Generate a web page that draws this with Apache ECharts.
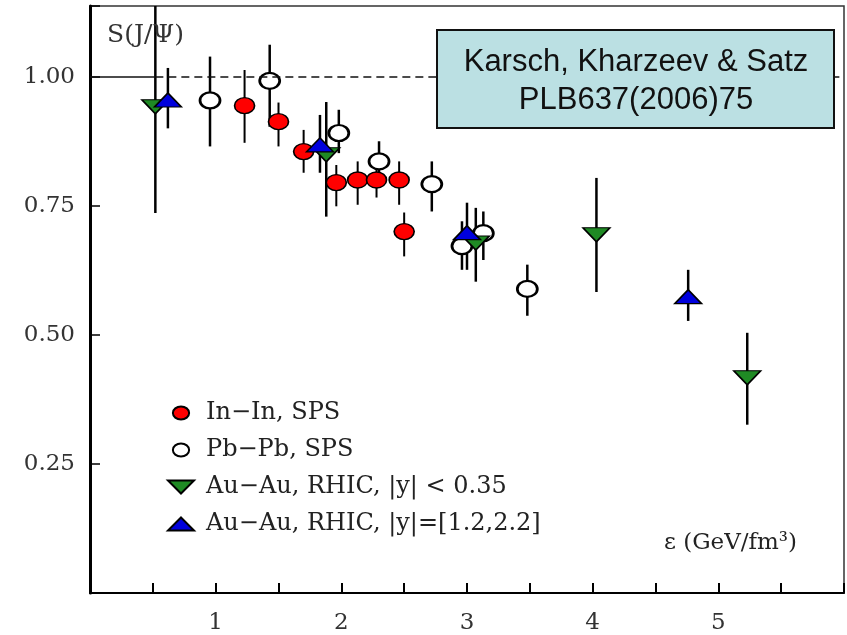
<!DOCTYPE html>
<html><head><meta charset="utf-8">
<script src="https://cdn.jsdelivr.net/npm/echarts@6/dist/echarts.min.js"></script>
<style>html,body{margin:0;padding:0;background:#fff}#c{width:847px;height:635px}</style>
</head><body><div id="c"></div>
<script>
// ---- data ----
const xTickLabels = ['1', '2', '3', '4', '5'];
const yTickLabels = ['0.25', '0.50', '0.75', '1.00'];
const seriesNames = ['In\u2212In, SPS', 'Pb\u2212Pb, SPS', 'Au\u2212Au, RHIC, |y| < 0.35', 'Au\u2212Au, RHIC, |y|=[1.2,2.2]'];

const inInX  = [1.23, 1.50, 1.70, 1.96, 2.13, 2.28, 2.46, 2.50];
const inInY  = [0.944, 0.913, 0.855, 0.795, 0.800, 0.800, 0.800, 0.700];
const inInLo = [0.872, 0.865, 0.814, 0.749, 0.752, 0.766, 0.752, 0.652];
const inInHi = [1.013, 0.950, 0.897, 0.829, 0.836, 0.829, 0.836, 0.737];

const pbPbX  = [0.955, 1.43, 1.98, 2.30, 2.72, 2.96, 3.13, 3.48];
const pbPbY  = [0.954, 0.992, 0.891, 0.836, 0.792, 0.672, 0.697, 0.589];
const pbPbLo = [0.865, 0.903, 0.852, 0.797, 0.739, 0.626, 0.645, 0.537];
const pbPbHi = [1.039, 1.062, 0.936, 0.875, 0.836, 0.720, 0.739, 0.636];

const auMidX  = [0.52, 1.88, 3.07, 4.03, 5.23];
const auMidY  = [0.942, 0.849, 0.678, 0.694, 0.417];
const auMidLo = [0.736, 0.729, 0.603, 0.583, 0.326];
const auMidHi = [1.150, 0.951, 0.746, 0.804, 0.504];

const auFwdX  = [0.62, 1.83, 3.00, 4.76];
const auFwdY  = [0.955, 0.868, 0.698, 0.574];
const auFwdLo = [0.900, 0.814, 0.626, 0.527];
const auFwdHi = [1.017, 0.926, 0.756, 0.626];

const refLevel = 1.0;
// ---- end data ----

const ellipse = 'path://M0,4 A5,4 0 1,1 10,4 A5,4 0 1,1 0,4 Z';
const triUp = 'path://M1,0 L2,1 L0,1 Z';
const triDown = 'path://M0,0 L2,0 L1,1 Z';
const serif = 'DejaVu Serif';

function zip(a, b) { return a.map((v, i) => [v, b[i]]); }
function errSeries(xs, lo, hi, w) {
  return {
    type: 'custom', clip: true, silent: true, z: 1,
    data: xs.map((x, i) => [x, lo[i], hi[i]]),
    renderItem(params, api) {
      const a = api.coord([api.value(0), api.value(1)]);
      const b = api.coord([api.value(0), api.value(2)]);
      return { type: 'line', shape: { x1: a[0], y1: a[1], x2: b[0], y2: b[1] },
               style: { stroke: '#000', lineWidth: w } };
    }
  };
}

const chart = echarts.init(document.getElementById('c'));
chart.setOption({
  animation: false,
  backgroundColor: '#fff',
  grid: { left: 90, top: 6, width: 760, height: 587, show: true, borderColor: '#333', borderWidth: 1.5 },
  xAxis: {
    type: 'value', min: 0, max: 6, interval: 0.5,
    axisLine: { lineStyle: { color: '#000', width: 2 } },
    axisTick: { inside: true, length: 10, lineStyle: { color: '#000', width: 2 } },
    splitLine: { show: false },
    axisLabel: {
      margin: 19, color: '#333', fontFamily: serif, fontSize: 23,
      formatter: v => { const s = String(Math.round(v * 100) / 100); return xTickLabels.includes(s) ? s : ''; }
    }
  },
  yAxis: {
    type: 'value', min: 0, max: 1.137, interval: 0.25,
    axisLine: { lineStyle: { color: '#000', width: 3 } },
    axisTick: { inside: true, length: 10, lineStyle: { color: '#000', width: 1.5 } },
    splitLine: { show: false },
    axisLabel: {
      margin: 15, color: '#333', fontFamily: serif, fontSize: 23,
      formatter: v => { const s = v.toFixed(2); return yTickLabels.includes(s) ? s : ''; }
    }
  },
  legend: {
    orient: 'vertical', left: 167, top: 401, padding: 0,
    itemWidth: 40, itemHeight: 13, itemGap: 13, selectedMode: false,
    textStyle: { fontFamily: serif, fontSize: 24, color: '#222' },
    data: [
      { name: seriesNames[0], icon: ellipse },
      { name: seriesNames[1], icon: ellipse },
      { name: seriesNames[2], icon: triDown },
      { name: seriesNames[3], icon: triUp }
    ]
  },
  graphic: [
    { type: 'rect', shape: { x: 437, y: 30, width: 397, height: 98 },
      style: { fill: '#bbe0e3', stroke: '#111', lineWidth: 2 }, z: 10 },
    { type: 'text', x: 636, y: 62, z: 11,
      style: { text: 'Karsch, Kharzeev & Satz', fontFamily: 'Liberation Sans', fontSize: 31, fill: '#111', align: 'center', verticalAlign: 'middle' } },
    { type: 'text', x: 636, y: 100, z: 11,
      style: { text: 'PLB637(2006)75', fontFamily: 'Liberation Sans', fontSize: 31, fill: '#111', align: 'center', verticalAlign: 'middle' } },
    { type: 'text', x: 107, y: 35, z: 11,
      style: { text: 'S(J/\u03A8)', fontFamily: serif, fontSize: 25, fill: '#333', align: 'left', verticalAlign: 'middle' } },
    { type: 'text', x: 797, y: 543, z: 11,
      style: { text: '\u03B5 (GeV/fm\u00B3)', fontFamily: serif, fontSize: 23, fill: '#222', align: 'right', verticalAlign: 'middle' } }
  ],
  series: [
    errSeries(pbPbX, pbPbLo, pbPbHi, 2.5),
    errSeries(inInX, inInLo, inInHi, 2),
    errSeries(auMidX, auMidLo, auMidHi, 2.5),
    errSeries(auFwdX, auFwdLo, auFwdHi, 2.5),
    { type: 'scatter', name: seriesNames[1], data: zip(pbPbX, pbPbY), symbol: ellipse, symbolSize: [20, 16], z: 3, silent: true,
      itemStyle: { color: '#fff', borderColor: '#000', borderWidth: 2.5, opacity: 1 },
      markLine: { silent: true, symbol: 'none', label: { show: false },
        lineStyle: { color: '#111', width: 1.5 },
        data: [
          [{ coord: [0, refLevel], lineStyle: { type: 'solid', color: '#111', width: 1.5 } }, { coord: [auMidX[0], refLevel] }],
          [{ coord: [auMidX[0], refLevel], lineStyle: { type: [8, 5], color: '#111', width: 1.5 } }, { coord: [6, refLevel] }]
        ] } },
    { type: 'scatter', name: seriesNames[0], data: zip(inInX, inInY), symbol: ellipse, symbolSize: [20, 16], z: 4, silent: true,
      itemStyle: { color: '#ff0000', borderColor: '#000', borderWidth: 1.5, opacity: 1 } },
    { type: 'scatter', name: seriesNames[2], data: zip(auMidX, auMidY), symbol: triDown, symbolSize: [27, 14], z: 5, silent: true,
      itemStyle: { color: '#1f8a24', borderColor: '#000', borderWidth: 1.5, opacity: 1 } },
    { type: 'scatter', name: seriesNames[3], data: zip(auFwdX, auFwdY), symbol: triUp, symbolSize: [27, 14], z: 6, silent: true,
      itemStyle: { color: '#0000dd', borderColor: '#000', borderWidth: 1.5, opacity: 1 } }
  ]
});
</script></body></html>
